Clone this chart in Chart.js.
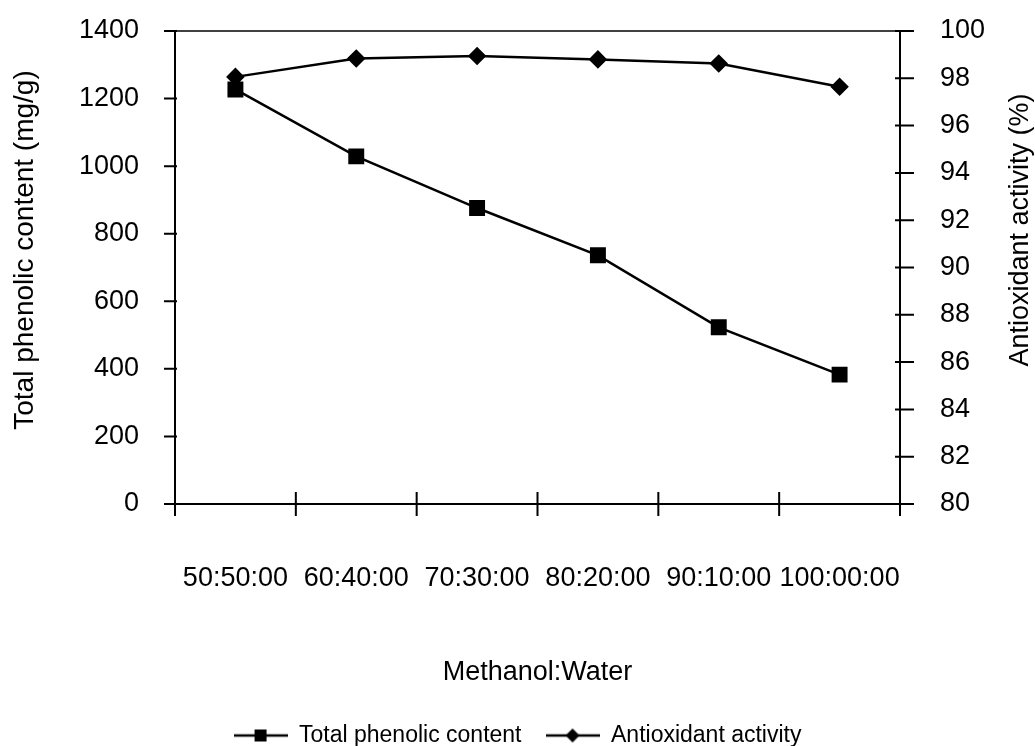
<!DOCTYPE html>
<html lang="en">
<head>
    <meta charset="UTF-8">
    <title>Total phenolic content and antioxidant activity</title>
    <script src="https://cdn.jsdelivr.net/npm/chart.js"></script>
    <style>
        body { margin: 0; background: #fff; }
        .chart-box { position: relative; width: 1035px; height: 746px; }
    </style>
</head>
<body>
    <div class="chart-box">
        <canvas id="mainChart" width="1035" height="746"></canvas>
    </div>

    <script>
        // data
        const ratios = ['50:50:00', '60:40:00', '70:30:00', '80:20:00', '90:10:00', '100:00:00'];
        const phenolic = [1227, 1029, 876, 736, 523, 383];
        const antioxidant = [98.06, 98.84, 98.94, 98.80, 98.63, 97.64];
        const leftTicks = [0, 200, 400, 600, 800, 1000, 1200, 1400];
        const rightTicks = [80, 82, 84, 86, 88, 90, 92, 94, 96, 98, 100];

        const fontName = "'Liberation Sans', Arial, sans-serif";

        // little line+marker pictures for the legend
        function legendIcon(style, w) {
            const c = document.createElement('canvas');
            c.width = w; c.height = 20;
            const g = c.getContext('2d');
            g.strokeStyle = '#000';
            g.fillStyle = '#000';
            g.lineWidth = 2.5;
            g.beginPath();
            g.moveTo(0, 10); g.lineTo(w, 10);
            g.stroke();
            g.beginPath();
            if (style === 'rect') {
                g.rect(w / 2 - 6, 4, 12, 12);
            } else {
                g.moveTo(w / 2, 3); g.lineTo(w / 2 + 7, 10);
                g.lineTo(w / 2, 17); g.lineTo(w / 2 - 7, 10);
                g.closePath();
            }
            g.fill();
            return c;
        }
        const icons = [legendIcon('rect', 54), legendIcon('rectRot', 54)];

        // tick marks, top frame line and the two rotated axis titles
        const frame = {
            id: 'frame',
            afterDraw(chart) {
                const ctx = chart.ctx;
                const a = chart.chartArea;
                const x = chart.scales.x, y = chart.scales.y, y1 = chart.scales.y1;
                ctx.save();
                ctx.strokeStyle = '#000';
                ctx.lineWidth = 1.5;
                ctx.beginPath();
                ctx.moveTo(a.left, a.top); ctx.lineTo(a.right, a.top);
                ctx.stroke();

                ctx.lineWidth = 2;
                ctx.beginPath();
                y.ticks.forEach(t => {
                    const p = y.getPixelForValue(t.value);
                    ctx.moveTo(a.left - 11, p); ctx.lineTo(a.left + 2, p);
                });
                y1.ticks.forEach(t => {
                    const p = y1.getPixelForValue(t.value);
                    ctx.moveTo(a.right - 5, p); ctx.lineTo(a.right + 14, p);
                });
                for (let i = 0; i <= ratios.length; i++) {
                    const p = x.getPixelForValue(i - 0.5);
                    ctx.moveTo(p, a.bottom - 12); ctx.lineTo(p, a.bottom + 12);
                }
                ctx.stroke();

                ctx.fillStyle = '#000';
                ctx.textAlign = 'center';
                ctx.textBaseline = 'middle';
                ctx.font = '28px ' + fontName;
                ctx.translate(25, 250);
                ctx.rotate(-Math.PI / 2);
                ctx.fillText('Total phenolic content (mg/g)', 0, 0);
                ctx.setTransform(1, 0, 0, 1, 0, 0);
                ctx.font = '27px ' + fontName;
                ctx.translate(1021, 230);
                ctx.rotate(-Math.PI / 2);
                ctx.fillText('Antioxidant activity (%)', 0, 0);
                ctx.restore();
            }
        };

        // the label padding would otherwise push the plot top down
        function fixWidth(w) {
            return function (s) {
                s.width = w;
                s.paddingTop = 16;
                s.paddingBottom = 16;
            };
        }

        new Chart(document.getElementById('mainChart'), {
            type: 'line',
            data: {
                labels: ratios,
                datasets: [{
                    label: 'Total phenolic content',
                    data: phenolic,
                    yAxisID: 'y',
                    borderColor: '#000',
                    backgroundColor: '#000',
                    borderWidth: 2.5,
                    pointStyle: 'rect',
                    pointRadius: 9.5,
                    tension: 0
                }, {
                    label: 'Antioxidant activity',
                    data: antioxidant,
                    yAxisID: 'y1',
                    borderColor: '#000',
                    backgroundColor: '#000',
                    borderWidth: 2.5,
                    pointStyle: 'rectRot',
                    pointRadius: 7.5,
                    tension: 0
                }]
            },
            options: {
                responsive: false,
                animation: false,
                layout: { padding: { top: 31, left: 0, right: 0, bottom: -11 } },
                plugins: {
                    tooltip: { enabled: false },
                    legend: {
                        position: 'bottom',
                        labels: {
                            usePointStyle: true,
                            pointStyleWidth: 54,
                            padding: 24,
                            color: '#000',
                            font: { family: fontName, size: 23 },
                            generateLabels(chart) {
                                return chart.data.datasets.map((ds, i) => ({
                                    text: ds.label,
                                    datasetIndex: i,
                                    pointStyle: icons[i],
                                    fillStyle: '#000',
                                    strokeStyle: '#000',
                                    lineWidth: 0,
                                    fontColor: '#000'
                                }));
                            }
                        }
                    }
                },
                scales: {
                    x: {
                        offset: true,
                        grid: { display: false, offset: true },
                        border: { display: true, color: '#000', width: 2 },
                        ticks: {
                            color: '#000',
                            padding: 50,
                            maxRotation: 0,
                            autoSkip: false,
                            font: { family: fontName, size: 27 }
                        },
                        title: {
                            display: true,
                            text: 'Methanol:Water',
                            color: '#000',
                            padding: { top: 0, bottom: 11 },
                            font: { family: fontName, size: 27 }
                        },
                        afterFit(s) { s.height = 196; }
                    },
                    y: {
                        position: 'left',
                        min: leftTicks[0],
                        max: leftTicks[leftTicks.length - 1],
                        afterBuildTicks(s) { s.ticks = leftTicks.map(v => ({ value: v })); },
                        grid: { display: false },
                        border: { display: true, color: '#000', width: 2 },
                        ticks: {
                            color: '#000',
                            padding: 28,
                            callback: v => String(v),
                            font: { family: fontName, size: 27 }
                        },
                        afterFit: fixWidth(175)
                    },
                    y1: {
                        position: 'right',
                        min: rightTicks[0],
                        max: rightTicks[rightTicks.length - 1],
                        afterBuildTicks(s) { s.ticks = rightTicks.map(v => ({ value: v })); },
                        grid: { display: false },
                        border: { display: true, color: '#000', width: 2 },
                        ticks: {
                            color: '#000',
                            padding: 32,
                            callback: v => String(v),
                            font: { family: fontName, size: 27 }
                        },
                        afterFit: fixWidth(135)
                    }
                }
            },
            plugins: [frame]
        });
    </script>
</body>
</html>
